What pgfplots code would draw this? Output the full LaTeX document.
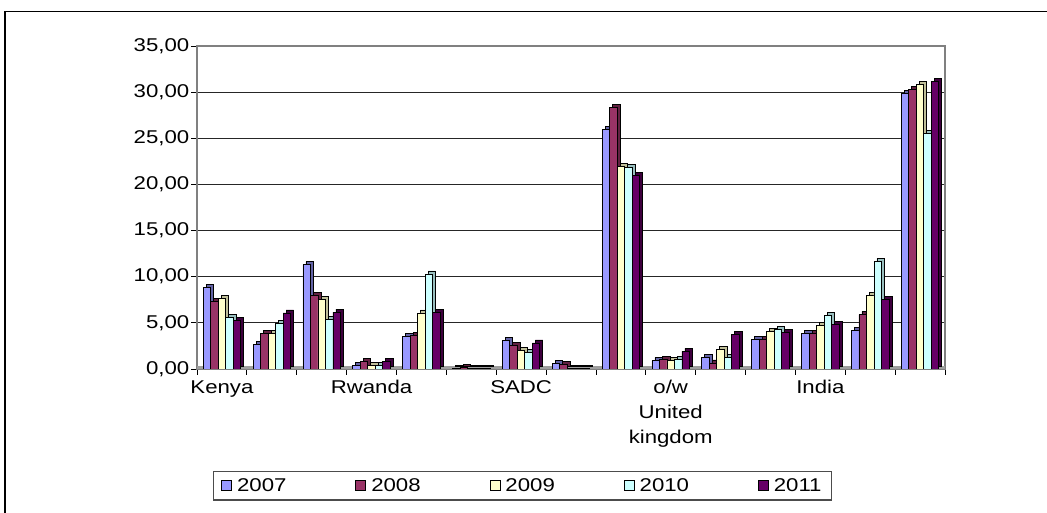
\documentclass[border=0pt]{standalone}
\usepackage{pgfplots}
\pgfplotsset{compat=1.18}
\usepackage{pgfplotstable}
\usepackage{fontspec}
\setmainfont{Liberation Sans}
\usepackage{graphicx}

\definecolor{c07}{HTML}{9999FF}
\definecolor{c08}{HTML}{993366}
\definecolor{c09}{HTML}{FFFFCC}
\definecolor{c10}{HTML}{CCFFFF}
\definecolor{c11}{HTML}{660066}

% text in the reference is a bit stretched sideways
\newcommand{\wide}[1]{\scalebox{1.2}[1]{#1}}

\pgfplotstableread{
g  y07   y08   y09   y10   y11
0  8.84  7.33  7.60  5.63  5.30
1  2.70  3.90  3.90  4.90  6.07
2  11.30 7.94  7.50  5.40  6.17
3  0.35  0.85  0.35  0.35  0.80
4  3.53  3.68  6.07  10.30 6.13
5  0.04  0.12  0.03  0.03  0.03
6  3.10  2.60  1.98  1.80  2.82
7  0.60  0.52  0.05  0.05  0.05
8  26.00 28.30 21.95 21.80 20.94
9  0.90  1.08  0.90  1.00  1.90
10 1.26  0.65  2.09  1.26  3.79
11 3.25  3.17  4.08  4.26  3.97
12 3.90  3.90  4.69  5.77  4.87
13 4.18  5.88  7.94  11.66 7.50
14 29.90 30.26 30.80 25.57 31.16
}\bars

\pgfplotsset{
  depth/.style={draw=black, line width=0.8pt, xshift=3pt, yshift=3pt, forget plot},
  front/.style={draw=black, line width=0.8pt,
    legend image code/.code={\draw[##1,line width=0.8pt] (0pt,-5pt) rectangle (10pt,5pt);}},
}

\begin{document}
\begin{tikzpicture}
\useasboundingbox (0,0) rectangle (1047pt,513pt);
\draw[line width=1.5pt] (4.75pt,0) |- (1047pt,501.5pt);
\begin{axis}[
  at={(197pt,144pt)}, anchor=south west,
  width=748pt, height=323pt, scale only axis,
  ybar, bar width=7.5pt,
  xmin=-0.5, xmax=14.5, ymin=0, ymax=35,
  ytick={0,5,...,35},
  xtick={-0.5,0.5,...,14.5},
  xticklabels={},
  extra x ticks={0,3,6,9,12},
  extra x tick labels={\wide{Kenya},\wide{Rwanda},\wide{SADC},
    \wide{\begin{tabular}[t]{@{}c@{}}o/w\\United\\kingdom\end{tabular}},\wide{India}},
  extra x tick style={major tick length=0pt, tick style={draw=none}},
  tick align=outside, xtick pos=left, ytick pos=left,
  major tick length=6pt,
  tick style={black, line width=0.8pt},
  ymajorgrids, grid style={black!85, line width=0.9pt},
  axis line style={draw=gray, line width=1.3pt},
  tick label style={font=\fontsize{18.5}{25}\selectfont},
  xticklabel style={anchor=base, yshift=-25pt},
  yticklabel style={inner xsep=1.5pt},
  yticklabel={\wide{\pgfmathprintnumber{\tick}}},
  /pgf/number format/fixed, /pgf/number format/fixed zerofill,
  /pgf/number format/precision=2, /pgf/number format/use comma,
  /pgf/number format/assume math mode=true,
  legend columns=5,
  legend style={at={(0.021,-0.3158)}, anchor=north west,
    draw=gray!60!black, line width=1.2pt,
    font=\fontsize{18.5}{25}\selectfont,
    inner xsep=8pt, inner ysep=5pt, column sep=0pt,
    nodes={inner sep=2pt},
    /tikz/every odd column/.append style={column sep=3pt},
    /tikz/every even column/.append style={column sep=67pt}},
]
% floor
\fill[gray!75] (axis cs:-0.5,0) rectangle (axis cs:14.5,0.32);

% side and top faces
\addplot[depth, fill=c07!65!black, bar shift=-15pt] table[x=g,y=y07]{\bars};
\addplot[depth, fill=c08!65!black, bar shift=-7.5pt] table[x=g,y=y08]{\bars};
\addplot[depth, fill=c09!75!black, bar shift=0pt] table[x=g,y=y09]{\bars};
\addplot[depth, fill=c10!75!black, bar shift=7.5pt] table[x=g,y=y10]{\bars};
\addplot[depth, fill=c11!60!black, bar shift=15pt] table[x=g,y=y11]{\bars};

% front faces
\addplot[front, fill=c07, bar shift=-15pt] table[x=g,y=y07]{\bars};
\addlegendentry{\wide{2007}}
\addplot[front, fill=c08, bar shift=-7.5pt] table[x=g,y=y08]{\bars};
\addlegendentry{\wide{2008}}
\addplot[front, fill=c09, bar shift=0pt] table[x=g,y=y09]{\bars};
\addlegendentry{\wide{2009}}
\addplot[front, fill=c10, bar shift=7.5pt] table[x=g,y=y10]{\bars};
\addlegendentry{\wide{2010}}
\addplot[front, fill=c11, bar shift=15pt] table[x=g,y=y11]{\bars};
\addlegendentry{\wide{2011}}
\end{axis}
\end{tikzpicture}
\end{document}
